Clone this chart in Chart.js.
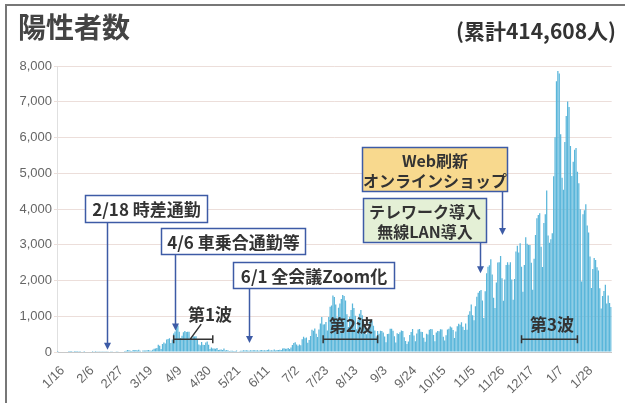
<!DOCTYPE html>
<html lang="ja">
<head>
<meta charset="utf-8">
<script src="https://cdn.jsdelivr.net/npm/chart.js@4.4.1/dist/chart.umd.min.js"></script>
<style>
  html, body { margin: 0; padding: 0; background: #fff; }
  #wrap { position: relative; width: 625px; height: 403px; overflow: hidden; }
  #frame { position: absolute; left: 5px; top: 4px; width: 630px; height: 410px;
           border-top: 2px solid #777; border-left: 2px solid #777; }
  #title { position: absolute; left: 18px; top: 6px; font: 700 28px "Noto Sans CJK JP"; color: #444; }
  #total { position: absolute; right: 9px; top: 15px; font: 700 21px "Noto Sans CJK JP"; color: #333; }
  canvas { position: absolute; left: 0; top: 0; }
</style>
</head>
<body>
<div id="wrap">
  <div id="frame"></div>
  <canvas id="casesChart" width="625" height="403"></canvas>
  <div id="title">陽性者数</div>
  <div id="total">(累計414,608人)</div>
</div>
<script>
// daily new positive cases, 2020/1/16 - 2021/2/15
const jan2020 = [1, 0, 0, 0, 0, 0, 0, 0, 1, 1, 1, 0, 2, 1, 3, 4];
const feb2020 = [3, 0, 0, 1, 0, 0, 0, 0, 0, 1, 0, 1, 4, 8, 9, 7, 6, 7, 9, 10, 10, 12, 7, 6, 14, 15, 23, 20, 14];
const mar2020 = [15, 15, 14, 31, 33, 59, 47, 35, 26, 59, 52, 54, 41, 64, 36, 15, 40, 44, 39, 49, 54, 42, 38, 65, 94, 97, 112, 200, 173, 87, 224];
const apr2020 = [266, 235, 353, 367, 383, 252, 351, 515, 576, 708, 743, 568, 391, 456, 549, 585, 556, 567, 568, 362, 375, 440, 436, 440, 346, 207, 188, 278, 203, 198];
const may2020 = [263, 294, 204, 87, 123, 101, 96, 94, 110, 56, 66, 71, 55, 99, 44, 57, 40, 29, 34, 33, 31, 26, 42, 15, 21, 37, 38, 46, 43, 49, 41];
const jun2020 = [36, 52, 41, 50, 46, 40, 47, 36, 47, 54, 40, 48, 41, 56, 72, 45, 52, 41, 70, 45, 58, 53, 60, 57, 96, 103, 93, 90, 113, 86];
const jul2020 = [126, 193, 250, 274, 208, 176, 207, 191, 355, 430, 385, 407, 262, 333, 448, 622, 593, 660, 509, 420, 631, 795, 981, 767, 778, 839, 598, 981, 1264, 1301, 1580];
const aug2020 = [1536, 1331, 959, 1237, 1356, 1485, 1595, 1566, 1442, 1053, 700, 985, 1177, 1360, 1230, 1011, 636, 910, 1073, 1175, 1031, 845, 740, 495, 655, 849, 867, 874, 736, 600, 437];
const sep2020 = [588, 509, 591, 589, 545, 436, 272, 506, 513, 651, 651, 591, 441, 269, 525, 501, 550, 598, 589, 415, 308, 227, 296, 477, 556, 645, 461, 298, 517, 626];
const oct2020 = [641, 563, 557, 398, 290, 510, 488, 621, 644, 633, 478, 300, 544, 587, 581, 636, 627, 424, 322, 468, 629, 652, 713, 682, 612, 394, 574, 720, 787, 760, 830];
const nov2020 = [704, 613, 794, 624, 1043, 1137, 1331, 1027, 890, 1278, 1547, 1660, 1704, 1736, 1440, 949, 1697, 2201, 2386, 2427, 2596, 2168, 1518, 1228, 1941, 2504, 2509, 2684, 2066, 1434];
const dec2020 = [2025, 2434, 2507, 2439, 2508, 2025, 1465, 2043, 2810, 2973, 2784, 3041, 2388, 1683, 2432, 3211, 3031, 2996, 2990, 2495, 1739, 2605, 3270, 3741, 3835, 3881, 2943, 2380, 3606, 3852, 4520];
const jan2021 = [3260, 3059, 3157, 3325, 4916, 6004, 7570, 7860, 7790, 6094, 4876, 4537, 5875, 6604, 7010, 6850, 5759, 4925, 5320, 5654, 5703, 5044, 4717, 3990, 1974, 3852, 3964, 4131, 3535, 3343, 2673];
const feb2021 = [1792, 2324, 2631, 2576, 2368, 2283, 1784, 1216, 1567, 1709, 1880, 1357, 1578, 1370, 1260];

const dailyCases = [].concat(jan2020, feb2020, mar2020, apr2020, may2020, jun2020, jul2020,
  aug2020, sep2020, oct2020, nov2020, dec2020, jan2021, feb2021);

const tickLabels = ["1/16", "2/6", "2/27", "3/19", "4/9", "4/30", "5/21", "6/11", "7/2", "7/23",
  "8/13", "9/3", "9/24", "10/15", "11/5", "11/26", "12/17", "1/7", "1/28"];

const yTicks = [0, 1000, 2000, 3000, 4000, 5000, 6000, 7000, 8000];

// one category per day
const days = [];
const start = new Date(2020, 0, 16);
for (let i = 0; i < dailyCases.length; i++) {
  const d = new Date(start.getTime());
  d.setDate(start.getDate() + i);
  days.push((d.getMonth() + 1) + "/" + d.getDate());
}

const FONT = '"Noto Sans CJK JP", sans-serif';
const BLUE = "#3d5ba6";

// event boxes with arrows, and wave brackets
const annotations = {
  id: "annotations",
  afterDatasetsDraw(chart) {
    const ctx = chart.ctx;
    const xs = chart.scales.x;
    const ys = chart.scales.y;

    const boxes = [
      { lines: ["2/18 時差通勤"], l: 85, t: 195, w: 123, h: 28, fill: "#fff", day: 35, tip: 60, size: 17 },
      { lines: ["4/6 車乗合通勤等"], l: 161, t: 228, w: 145, h: 27, fill: "#fff", day: 84, tip: 600, size: 17 },
      { lines: ["6/1 全会議Zoom化"], l: 233, t: 262, w: 162, h: 27, fill: "#fff", day: 137, tip: 250, size: 17 },
      { lines: ["Web刷新", "オンラインショップ"], l: 362, t: 147, w: 146, h: 45, fill: "#f8d98e", day: 318, tip: 3270, size: 16 },
      { lines: ["テレワーク導入", "無線LAN導入"], l: 363, t: 198, w: 124, h: 45, fill: "#e4f0d6", day: 302, tip: 2200, size: 16 }
    ];

    ctx.save();
    boxes.forEach(b => {
      const ax = Math.round(xs.getPixelForValue(b.day)) + 0.5;
      const tipY = ys.getPixelForValue(b.tip);
      ctx.strokeStyle = BLUE;
      ctx.fillStyle = BLUE;
      ctx.lineWidth = 1.5;
      ctx.beginPath();
      ctx.moveTo(ax, b.t + b.h);
      ctx.lineTo(ax, tipY - 6);
      ctx.stroke();
      ctx.beginPath();
      ctx.moveTo(ax - 3.5, tipY - 7);
      ctx.lineTo(ax + 3.5, tipY - 7);
      ctx.lineTo(ax, tipY);
      ctx.closePath();
      ctx.fill();
      ctx.fillStyle = b.fill;
      ctx.fillRect(b.l, b.t, b.w, b.h);
      ctx.lineWidth = 1.5;
      ctx.strokeRect(b.l + 0.5, b.t + 0.5, b.w - 1, b.h - 1);
      ctx.fillStyle = "#333";
      ctx.textAlign = "center";
      ctx.textBaseline = "middle";
      ctx.font = "700 " + b.size + "px " + FONT;
      const lh = 20;
      const cy = b.t + b.h / 2 - (b.lines.length - 1) * lh / 2 + 1;
      b.lines.forEach((s, k) => ctx.fillText(s, b.l + b.w / 2, cy + k * lh));
    });

    const waves = [
      { label: "第1波", from: 83, to: 111, tx: 210, ty: 315, leader: true },
      { label: "第2波", from: 190, to: 229, tx: 351, ty: 326 },
      { label: "第3波", from: 332, to: 372, tx: 552, ty: 325 }
    ];
    const by = ys.getPixelForValue(360);
    ctx.strokeStyle = "#333";
    ctx.lineWidth = 1.5;
    waves.forEach(w => {
      const x1 = xs.getPixelForValue(w.from);
      const x2 = xs.getPixelForValue(w.to);
      ctx.beginPath();
      ctx.moveTo(x1, by); ctx.lineTo(x2, by);
      ctx.moveTo(x1, by - 4); ctx.lineTo(x1, by + 4);
      ctx.moveTo(x2, by - 4); ctx.lineTo(x2, by + 4);
      if (w.leader) {
        ctx.moveTo((x1 + x2) / 2 - 3, by);
        ctx.lineTo((x1 + x2) / 2 + 8, by - 15);
      }
      ctx.stroke();
      ctx.fillStyle = "#333";
      ctx.font = "700 17px " + FONT;
      ctx.textAlign = "center";
      ctx.textBaseline = "middle";
      ctx.fillText(w.label, w.tx, w.ty);
    });
    ctx.restore();
  }
};

new Chart(document.getElementById("casesChart"), {
  type: "bar",
  data: {
    labels: days,
    datasets: [{
      label: "陽性者数",
      data: dailyCases,
      backgroundColor: "#5ab6da",
      barPercentage: 0.9,
      categoryPercentage: 1
    }]
  },
  options: {
    responsive: false,
    animation: false,
    events: [],
    layout: { padding: { top: 66, left: 0, right: 8, bottom: 0 } },
    plugins: { legend: { display: false }, tooltip: { enabled: false } },
    scales: {
      x: {
        afterFit: s => { s.height = 51; },
        grid: { display: false },
        border: { color: "#c8c8c8" },
        ticks: {
          autoSkip: false,
          minRotation: 45,
          maxRotation: 45,
          padding: 3,
          labelOffset: 5,
          color: "#666",
          font: { family: '"Liberation Sans Narrow", "Liberation Sans"', size: 13 },
          callback: function (v, i) {
            const lab = days[i];
            return (i % 21 === 0 && tickLabels.includes(lab)) ? lab : "";
          }
        }
      },
      y: {
        min: 0,
        max: 8000,
        afterFit: s => { s.width = 57; },
        afterBuildTicks: s => { s.ticks = yTicks.map(v => ({ value: v })); },
        grid: { color: "#ecdeda", tickLength: 3 },
        border: { color: "#e0e0e0" },
        ticks: {
          padding: 2,
          color: "#666",
          font: { family: '"Liberation Sans Narrow", "Liberation Sans"', size: 13 },
          callback: v => v.toLocaleString("en-US")
        }
      }
    }
  },
  plugins: [annotations]
});
</script>
</body>
</html>
